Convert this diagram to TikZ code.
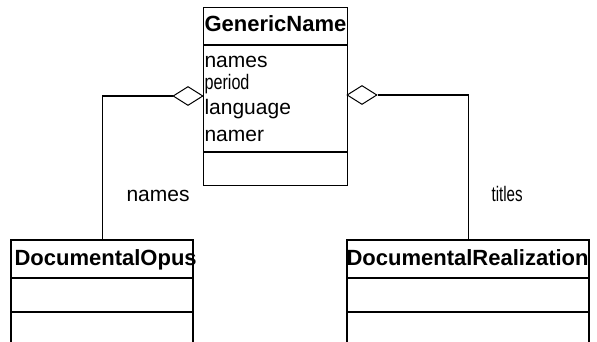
\documentclass[tikz,border=0pt]{standalone}
\usepackage{fontspec}
\setmainfont{Liberation Sans}
\usetikzlibrary{shapes.geometric}
\begin{document}
\begin{tikzpicture}[x=1pt,y=-1pt,
  line width=1.1pt,
  umlbox/.style={draw, rectangle, inner sep=0pt, anchor=north west},
  hdr/.style={anchor=base west, inner sep=0pt, font=\fontsize{22}{24}\selectfont\bfseries},
  attr/.style={anchor=base west, inner sep=0pt, font=\fontsize{21}{23}\selectfont},
  agg/.style={draw, diamond, fill=white, inner sep=0pt, minimum width=30pt, minimum height=19pt, line width=1pt},
  conn/.style={draw, line width=1.1pt}]
\useasboundingbox (0,0) rectangle (597,342);
% GenericName class
\node[umlbox, minimum width=144pt, minimum height=178pt] (gn) at (203,7) {};
\draw (203,45) -- (347,45);
\draw (203,152) -- (347,152);
\node[hdr] (gnt) at (204,32) {GenericName};
\node[attr] (a1) at (204,68) {names};
\node[attr] (a2) at (204,90) {\scalebox{0.77}[1]{period}};
\node[attr] (a3) at (204,115) {language};
\node[attr] (a4) at (204,142) {namer};
% DocumentalOpus
\coordinate (op1) at (11,240);
\coordinate (op2) at (193,342);
\node[inner sep=0pt, minimum width=182pt, minimum height=0pt, anchor=north west] (opus) at (11,240) {};
\draw (11,342) -- (11,240) -- (193,240) -- (193,342);
\draw (11,278) -- (193,278);
\draw (11,312) -- (193,312);
\node[hdr] (opt) at (14,265) {DocumentalOpus};
% DocumentalRealization
\node[inner sep=0pt, minimum width=242pt, minimum height=0pt, anchor=north west] (real) at (347,240) {};
\draw (347,342) -- (347,240) -- (589,240) -- (589,342);
\draw (347,278) -- (589,278);
\draw (347,312) -- (589,312);
\node[hdr] (rt) at (346,265) {DocumentalRealization};
% aggregations
\node[agg] (dl) at (188,96) {};
\node[agg] (dr) at (362,95) {};
\draw[conn] (dl.west) -| (opus.north);
\draw[conn] (dr.east) -| (real.north);
% labels
\node[attr] (ln) at (126,201) {names};
\node[attr] (lt) at (491,201) {\scalebox{0.72}[1]{titles}};
\end{tikzpicture}
\end{document}
